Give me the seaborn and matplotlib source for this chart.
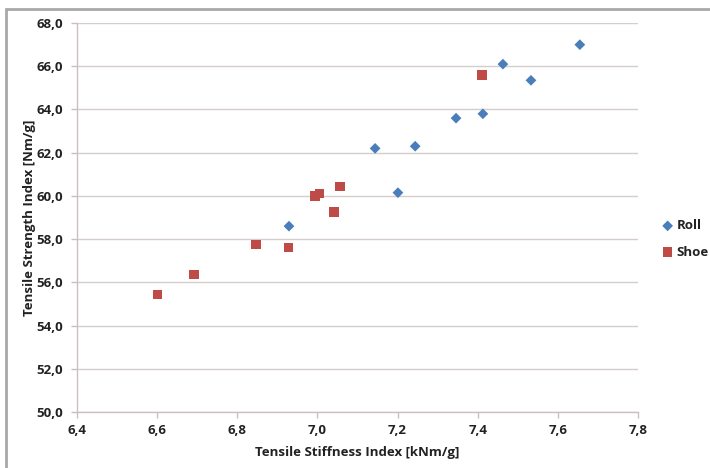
import pandas as pd
import matplotlib.pyplot as plt
import seaborn as sns
from matplotlib.patches import Rectangle
from matplotlib.ticker import FuncFormatter, MultipleLocator

# Tensile stiffness vs. tensile strength for two press types
rollStiffness = [7.655, 7.463, 7.533, 7.346, 7.413, 7.144, 7.244, 7.201, 6.929]
rollStrength = [67.0, 66.1, 65.35, 63.6, 63.8, 62.2, 62.3, 60.15, 58.6]
shoeStiffness = [7.411, 6.600, 6.692, 6.847, 6.927, 6.994, 7.006, 7.056, 7.041]
shoeStrength = [65.6, 55.45, 56.35, 57.75, 57.6, 60.0, 60.1, 60.45, 59.25]
seriesNames = ["Roll", "Shoe"]

df = pd.DataFrame({
    "Stiffness": rollStiffness + shoeStiffness,
    "Strength": rollStrength + shoeStrength,
    "Press": ["Roll"] * len(rollStiffness) + ["Shoe"] * len(shoeStiffness),
})

sns.set_style("white")
plt.rcParams['font.family'] = ['Open Sans', 'DejaVu Sans']

fig = plt.figure(figsize=(7.1, 4.68), dpi=100)
ax = fig.add_axes([0.1085, 0.1197, 0.79, 0.831])

palette = {"Roll": "#4a7ebb", "Shoe": "#be4b48"}
markers = {"Roll": "D", "Shoe": "s"}
for name in seriesNames:
    sub = df[df["Press"] == name]
    sns.scatterplot(data=sub, x="Stiffness", y="Strength", ax=ax, color=palette[name],
                    marker=markers[name], s=30 if name == "Roll" else 45,
                    edgecolor="none", label=name, zorder=3)

ax.set_xlim(6.4, 7.8)
ax.set_ylim(50, 68)
ax.xaxis.set_major_locator(MultipleLocator(0.2))
ax.yaxis.set_major_locator(MultipleLocator(2))
ax.xaxis.set_major_formatter(FuncFormatter(lambda v, p: f"{v:.1f}".replace('.', ',')))
ax.yaxis.set_major_formatter(FuncFormatter(lambda v, p: f"{v:.1f}".replace('.', ',')))

ax.yaxis.grid(True, color="#d6cccc", linewidth=1.0)
ax.xaxis.grid(False)
ax.set_axisbelow(True)
for side in ["top", "right"]:
    ax.spines[side].set_visible(False)
for side in ["left", "bottom"]:
    ax.spines[side].set_color("#c8c0c0")
    ax.spines[side].set_linewidth(1.0)
ax.tick_params(axis="both", which="major", length=4, width=1, color="#c8c0c0",
               labelsize=9.5, labelcolor="#222222", direction="out",
               left=True, bottom=True)
ax.tick_params(axis="x", pad=5)
ax.tick_params(axis="y", pad=6)
for lbl in ax.get_xticklabels() + ax.get_yticklabels():
    lbl.set_fontweight("bold")

ax.set_xlabel("Tensile Stiffness Index [kNm/g]", fontsize=9.5, fontweight="bold", color="#222222", labelpad=6)
ax.set_ylabel("Tensile Strength Index [Nm/g]", fontsize=9.5, fontweight="bold", color="#222222", labelpad=0)

leg = ax.legend(loc="center left", bbox_to_anchor=(1.02, 0.445), frameon=False,
                fontsize=9.5, handletextpad=0.2, labelspacing=1.0, handlelength=1.0)
for txt in leg.get_texts():
    txt.set_fontweight("bold")
    txt.set_color("#222222")

# outer chart frame
fig.patches.append(Rectangle((6 / 710, -0.05), 1.05, 1.05 - 9 / 468,
                             transform=fig.transFigure, fill=False,
                             edgecolor="#a8a8a8", linewidth=2, figure=fig))

fig.savefig("out.png", dpi=100)
plt.close(fig)
